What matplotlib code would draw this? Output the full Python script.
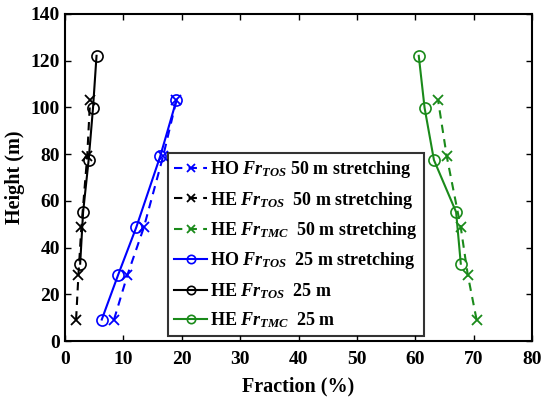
import matplotlib
matplotlib.use('Agg')
import matplotlib.pyplot as plt

plt.rcParams['font.family'] = 'Liberation Serif'
plt.rcParams['font.weight'] = 'bold'
plt.rcParams['mathtext.fontset'] = 'custom'
plt.rcParams['mathtext.rm'] = 'Liberation Serif:bold'
plt.rcParams['mathtext.it'] = 'Liberation Serif:italic:bold'
plt.rcParams['mathtext.bf'] = 'Liberation Serif:bold'

# heights (m) of the sampling levels
h_stretch = [9.2, 28.3, 48.6, 79.0, 103.2]
h_25 = [33.1, 55.2, 77.5, 99.8, 122.1]

# fractions (%)
ho_tos_50 = [8.4, 10.7, 13.5, 16.8, 19.1]
he_tos_50 = [1.9, 2.3, 2.8, 3.8, 4.3]
he_tmc_50 = [70.5, 69.0, 67.8, 65.4, 63.9]
ho_tos_25 = [6.3, 9.1, 12.2, 16.3, 19.1]
he_tos_25 = [2.6, 3.1, 4.05, 4.8, 5.4]
he_tmc_25 = [67.8, 67.0, 63.2, 61.6, 60.6]

labels = [r'HO $\mathit{Fr}_{\mathit{TOS}}$ 50 m stretching',
          r'HE $\mathit{Fr}_{\mathit{TOS}}$  50 m stretching',
          r'HE $\mathit{Fr}_{\mathit{TMC}}$  50 m stretching',
          r'HO $\mathit{Fr}_{\mathit{TOS}}$  25 m stretching',
          r'HE $\mathit{Fr}_{\mathit{TOS}}$  25 m',
          r'HE $\mathit{Fr}_{\mathit{TMC}}$  25 m']

fig = plt.figure(figsize=(5.43, 4.0), dpi=100)
ax = fig.add_axes([65 / 543, 1 - 341 / 400, 467 / 543, 327 / 400])

green = '#1a8a1a'
mx = dict(marker='x', markersize=7, markeredgewidth=1.3, linewidth=1.5, linestyle=(0, (4, 3)))
mo = dict(marker='o', markersize=8, markerfacecolor='none', markeredgewidth=1.2, linewidth=1.5)

ax.plot(ho_tos_50, h_stretch, color='blue', label=labels[0], **mx)
ax.plot(he_tos_50, h_stretch, color='black', label=labels[1], **mx)
ax.plot(he_tmc_50, h_stretch, color=green, label=labels[2], **mx)
ax.plot(ho_tos_25, h_stretch, color='blue', label=labels[3], **mo)
ax.plot(he_tos_25, h_25, color='black', label=labels[4], **mo)
ax.plot(he_tmc_25, h_25, color=green, label=labels[5], **mo)

ax.set_xlim(0, 80)
ax.set_ylim(0, 140)
ax.set_xticks(range(0, 81, 10))
ax.set_yticks(range(0, 141, 20))
ax.tick_params(direction='in', top=True, right=True, labelsize=14, width=1, length=4)
ax.tick_params(axis='x', pad=7)
for s in ax.spines.values():
    s.set_linewidth(1.5)
ax.set_xlabel('Fraction (%)', fontsize=14.5, fontweight='bold', labelpad=6)
ax.set_ylabel('Height (m)', fontsize=14.5, fontweight='bold', labelpad=4)

leg = ax.legend(loc='upper left', bbox_to_anchor=(103 / 467, (341 - 153) / 327),
                fontsize=13, frameon=True, fancybox=False, edgecolor='black',
                handlelength=1.8, handletextpad=0.2, borderpad=0.35, labelspacing=0.52,
                borderaxespad=0, markerscale=0.75)
leg.get_frame().set_linewidth(1.5)

fig.savefig('out.png', dpi=100)
